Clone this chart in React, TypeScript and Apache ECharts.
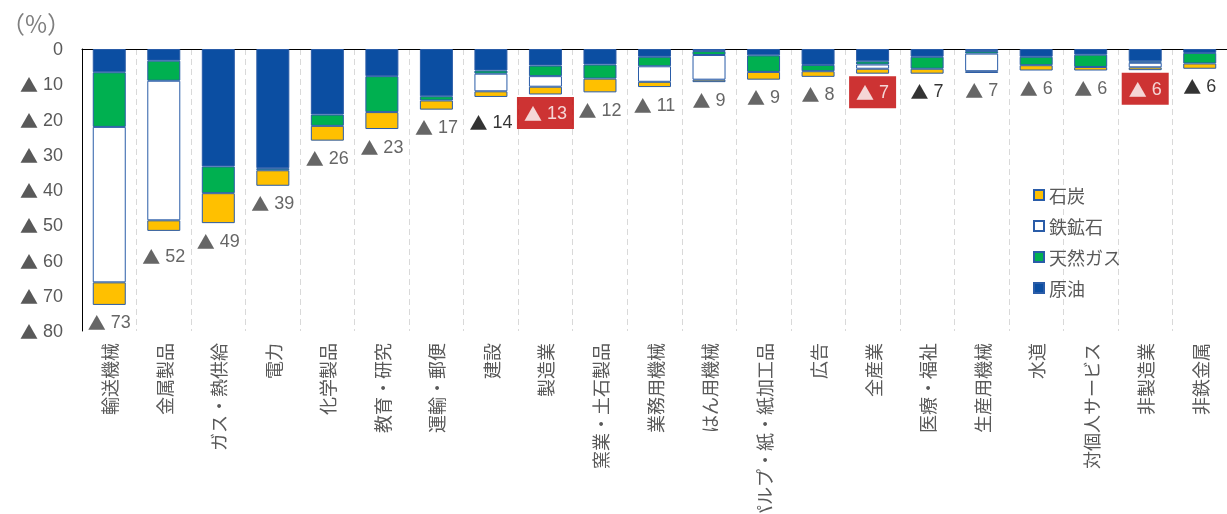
import React, { useEffect, useRef } from 'react';
import * as echarts from 'echarts';

const categories = [
  '輸送機械', '金属製品', 'ガス・熱供給', '電力', '化学製品', '教育・研究', '運輸・郵便',
  '建設', '製造業', '窯業・土石製品', '業務用機械', 'はん用機械', 'パルプ・紙・紙加工品',
  '広告', '全産業', '医療・福祉', '生産用機械', '水道', '対個人サービス', '非製造業', '非鉄金属',
];

// contributions (percentage points, negative = decline)
const crudeOil = [-6.6, -3.3, -33.3, -33.8, -18.6, -7.7, -13.4, -6.1, -4.7, -4.4, -2.2, -0.6, -1.8, -4.5, -3.5, -2.2, -0.6, -2.2, -1.6, -3.5, -1.1];
const naturalGas = [-15.5, -5.7, -7.6, -0.6, -3.2, -10.2, -1.2, -0.9, -3.0, -4.0, -2.7, -1.1, -4.7, -1.8, -0.9, -3.4, -0.7, -2.4, -3.5, -0.4, -3.0];
const ironOre = [-44.1, -39.6, 0, 0, 0, 0, 0, -5.0, -3.0, 0, -4.4, -7.0, 0, 0, -1.2, 0, -5.0, 0, 0, -1.3, 0];
const coal = [-6.4, -3.0, -8.5, -4.4, -4.2, -4.8, -2.6, -1.6, -2.2, -3.9, -1.5, -0.7, -2.2, -1.6, -1.4, -1.4, -0.5, -1.5, -1.0, -0.8, -1.5];
const totals = [73, 52, 49, 39, 26, 23, 17, 14, 13, 12, 11, 9, 9, 8, 7, 7, 7, 6, 6, 6, 6];

const highlighted = ['製造業', '全産業', '非製造業'];
const blackLabels = ['建設', '医療・福祉', '非鉄金属'];
const loweredLabels = ['金属製品', '建設'];

const LATIN = '"Liberation Sans", "Noto Sans CJK JP", sans-serif';
const JP = '"Noto Sans CJK JP", "Noto Sans", sans-serif';
const BORDER = '#2A5CA8';

export default function App() {
  const ref = useRef<HTMLDivElement>(null);

  useEffect(() => {
    if (!ref.current) return;
    const chart = echarts.init(ref.current, null, { renderer: 'svg' });

    const mkBar = (name: string, data: number[], color: string) => ({
      name,
      type: 'bar',
      stack: 'total',
      barWidth: 33,
      xAxisIndex: 0,
      data: data.map((v) => (v === 0 ? '-' : v)),
      itemStyle: { color, borderColor: BORDER, borderWidth: 1 },
      emphasis: { disabled: true },
    });

    const labelData = categories.map((c, i) => {
      const sum = crudeOil[i] + naturalGas[i] + ironOre[i] + coal[i];
      const hl = highlighted.includes(c);
      const col = hl ? '#FFFFFF' : blackLabels.includes(c) ? '#000000' : '#404040';
      const offset = loweredLabels.includes(c) ? [0, 8] : [0, 0];
      return {
        value: sum,
        label: hl
          ? {
              distance: 2,
              color: col,
              backgroundColor: '#C00000',
              padding: [7, 7, 7, 7],
              rich: { t: { fontFamily: JP, fontSize: 18, color: col } },
            }
          : { color: col, offset, rich: { t: { fontFamily: JP, fontSize: 18, color: col } } },
      };
    });

    chart.setOption({
      animation: false,
      grid: { left: 82, right: 0, top: 49, bottom: 183, containLabel: false, outerBoundsMode: 'none' },
      graphic: [
        {
          type: 'text',
          left: 1,
          top: 10,
          style: { text: '（%）', fontSize: 24, fill: '#7F7F7F', fontFamily: JP },
        },
      ],
      legend: {
        data: ['石炭', '鉄鉱石', '天然ガス', '原油'],
        orient: 'vertical',
        left: 1028,
        top: 181,
        itemWidth: 10,
        itemHeight: 10,
        itemGap: 13,
        icon: 'rect',
        selectedMode: false,
        textStyle: { fontSize: 18, color: '#595959', fontFamily: JP },
      },
      xAxis: [
        {
          type: 'category',
          data: categories,
          position: 'bottom',
          axisLine: { show: false },
          axisTick: { show: false },
          axisLabel: {
            interval: 0,
            rotate: 90,
            margin: 12,
            fontSize: 18,
            color: '#595959',
            fontFamily: JP,
          },
          splitLine: { show: true, lineStyle: { color: '#D9D9D9', width: 1, type: [6, 4] } },
        },
        {
          type: 'category',
          data: categories,
          position: 'top',
          axisLine: { show: true, lineStyle: { color: '#000000', width: 1 } },
          axisTick: { show: false },
          axisLabel: { show: false },
          splitLine: { show: false },
        },
      ],
      yAxis: {
        type: 'value',
        min: -80,
        max: 0,
        interval: 10,
        axisLine: { show: true, lineStyle: { color: '#000000', width: 1 } },
        axisTick: { show: false },
        splitLine: { show: false },
        axisLabel: {
          margin: 19,
          fontSize: 18,
          color: '#595959',
          fontFamily: LATIN,
          formatter: (v: number) => (v === 0 ? '0' : '{t|▲} ' + Math.abs(v)),
          rich: { t: { fontFamily: JP, fontSize: 18, color: '#595959' } },
        },
      },
      series: [
        mkBar('原油', crudeOil, '#0B4EA2'),
        mkBar('天然ガス', naturalGas, '#00B050'),
        mkBar('鉄鉱石', ironOre, '#FFFFFF'),
        mkBar('石炭', coal, '#FFC000'),
        {
          name: '合計',
          type: 'scatter',
          xAxisIndex: 0,
          symbolSize: 1,
          itemStyle: { color: 'rgba(0,0,0,0)' },
          silent: true,
          z: 5,
          data: labelData,
          label: {
            show: true,
            position: 'bottom',
            distance: 8,
            fontSize: 18,
            fontFamily: LATIN,
            formatter: (p: any) => '{t|▲} ' + totals[p.dataIndex],
          },
        },
      ],
    });

    return () => chart.dispose();
  }, []);

  return (
    <div
      ref={ref}
      style={{ position: 'fixed', left: 0, top: 0, width: 1227, height: 514 }}
    />
  );
}
